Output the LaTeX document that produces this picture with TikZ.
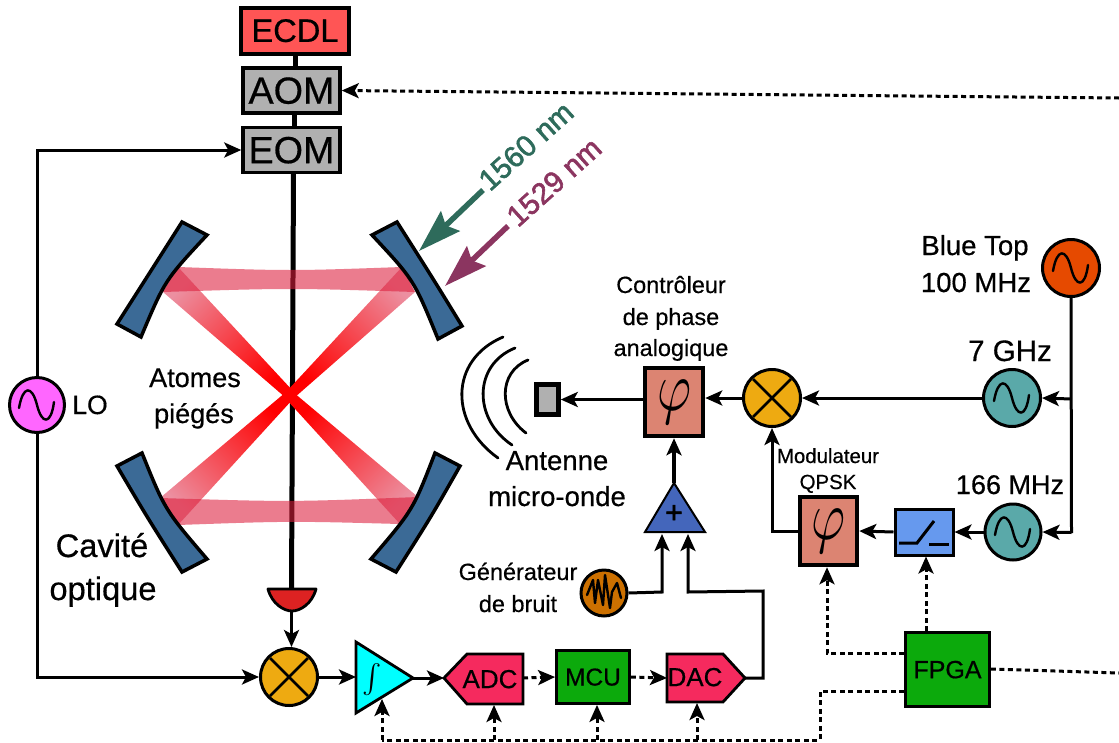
\documentclass[tikz,border=0pt]{standalone}
\usepackage{fontspec}
\setmainfont{Liberation Sans}[FakeBold=0.5]
\newfontface\boldish{Liberation Sans}[FakeBold=2]
\usetikzlibrary{arrows.meta,fadings,calc}
\newcommand{\fs}[1]{\edef\curfs{\the\dimexpr #1pt*102/100\relax}\fontsize{\curfs}{\curfs}\selectfont}
\definecolor{bluemirror}{HTML}{3B6A96}
\definecolor{boxgray}{HTML}{B0B0B0}
\definecolor{ecdlred}{HTML}{FF5555}
\definecolor{mixcol}{HTML}{EEAA11}
\definecolor{osccol}{HTML}{5AA9A9}
\definecolor{topcol}{HTML}{E64A00}
\definecolor{locol}{HTML}{FF66FF}
\definecolor{phasecol}{HTML}{DC8472}
\definecolor{swcol}{HTML}{6699EE}
\definecolor{pluscol}{HTML}{4466BB}
\definecolor{noisecol}{HTML}{CC7000}
\definecolor{convcol}{HTML}{F52A5E}
\definecolor{greenbox}{HTML}{0CAA0C}
\definecolor{greenarrow}{HTML}{2E6B5B}
\definecolor{purplearrow}{HTML}{8B3560}
\definecolor{beamred}{HTML}{DC1E3C}
\definecolor{beampale}{HTML}{EC8FA0}
\definecolor{beammid}{HTML}{F04A5A}
\definecolor{detred}{HTML}{DD2222}
\definecolor{intcol}{HTML}{00FFFF}
\tikzfading[name=hbeam,left color=transparent!42,middle color=transparent!28,right color=transparent!42]
\tikzset{
  tip/.style={-{Stealth[length=17pt,width=15pt,inset=4pt]}},
  sig/.style={line width=3pt,tip},
  wire/.style={line width=3pt},
  dsh/.style={line width=3pt,dash pattern=on 5pt off 3.5pt},
  dtip/.style={dsh,tip},
  mirror/.style={fill=bluemirror,draw=black,line width=3.5pt,line join=miter},
  lab/.style={inner sep=0pt,anchor=base,align=center},
  modbox/.style={draw=black,fill=boxgray,line width=3.5pt,minimum width=97pt,minimum height=45pt,inner sep=0pt,font=\fs{37},text depth=0pt},
  ecdlbox/.style={draw=black,fill=ecdlred,line width=4pt,minimum width=108pt,minimum height=46pt,inner sep=0pt,font=\fs{32},text depth=0pt},
  greenb/.style={draw=black,fill=greenbox,line width=2.8pt,inner sep=0pt,text depth=0pt},
  phasebox/.style={draw=black,fill=phasecol,line width=4.5pt,inner sep=0pt},
  osc/.style={circle,draw=black,line width=3pt,inner sep=0pt,minimum size=#1},
  conv/.style={fill=convcol,draw=black,line width=2.8pt,line join=miter},
  wave/.style={line width=2.8pt,line cap=round},
  curve/.style={line width=2.4pt,line cap=round,line join=round},
  bigtip/.style={-{Stealth[length=43pt,width=27pt,inset=6pt]},line width=5.5pt},
}
\newcommand{\sinewave}[1]{\draw[curve] ($(#1)+(-18,3)$) .. controls ($(#1)+(-14,-20)$) and ($(#1)+(-5,-20)$) .. ($(#1)+(0,0)$) .. controls ($(#1)+(5,20)$) and ($(#1)+(14,20)$) .. ($(#1)+(17,-3)$);}
\newcommand{\crossmix}[1]{\draw[line width=2.8pt] ($(#1)+(-19,-19)$) -- ($(#1)+(19,19)$) ($(#1)+(-19,19)$) -- ($(#1)+(19,-19)$);}
\newcommand{\phiglyph}{\scalebox{5.2}[7]{$\varphi$}}
\begin{document}
\begin{tikzpicture}[x=1pt,y=-1pt]
\useasboundingbox (0,0) rectangle (1119,742);
% --- optical chain
\node[ecdlbox] (ecdl) at (295,30.5) {ECDL};
\node[modbox] (aom) at (291.5,90.5) {AOM};
\node[modbox] (eom) at (291.5,150) {EOM};
\draw[line width=5pt] (295,54) -- (295,68);
\draw[line width=5pt] (294.5,113) -- (294.5,127);
\coordinate (detin) at (291.5,590);
\draw[line width=5pt] (293.5,173) -- (detin);
% --- beams
\coordinate (ctr) at (290,395);
\shade[top color=beampale,middle color=beammid,bottom color=red,shading angle=45] (178,267) -- (293,391) -- (286,398) -- (163,292) -- cycle;
\shade[top color=beampale,middle color=beammid,bottom color=red,shading angle=-45] (402,267) -- (415,292) -- (294,398) -- (287,391) -- cycle;
\shade[top color=red,middle color=beammid,bottom color=beampale,shading angle=-45] (160,498) -- (286,392) -- (293,399) -- (178,525) -- cycle;
\shade[top color=red,middle color=beammid,bottom color=beampale,shading angle=45] (418,497) -- (400,524) -- (286,399) -- (293,392) -- cycle;
\fill[red] (ctr) circle (6);
\fill[beamred,path fading=hbeam] (178,267) .. controls (290,271) .. (402,267) -- (415,292) .. controls (290,288) .. (163,292) -- cycle;
\fill[beamred,path fading=hbeam] (160,498) .. controls (290,502) .. (418,497) -- (400,524) .. controls (290,521) .. (178,525) -- cycle;
% --- mirrors
\draw[mirror] (182,222) -- (207,235) .. controls (165,280) .. (141,337) -- (117,324) .. controls (147,277) .. cycle;
\draw[mirror] (397,222) -- (372,235) .. controls (414,280) .. (438,339) -- (462,326) .. controls (432,277) .. cycle;
\draw[mirror] (117,466) -- (142,453) .. controls (165,510) .. (207,559) -- (182,572) .. controls (147,517) .. cycle;
\draw[mirror] (460,466) -- (435,453) .. controls (413,510) .. (371,559) -- (396,572) .. controls (431,517) .. cycle;
% --- wavelength arrows
\coordinate (gs) at (483,190); \coordinate (ge) at (419,251);
\coordinate (ps) at (508,226); \coordinate (pe) at (445,286);
\draw[bigtip,greenarrow] (gs) -- (ge);
\draw[bigtip,purplearrow] (ps) -- (pe);
\node[inner sep=0pt,rotate=42,text=greenarrow,font=\boldish\fs{29}] (l1560) at (526,146) {1560 nm};
\node[inner sep=0pt,rotate=42,text=purplearrow,font=\boldish\fs{29}] (l1529) at (554,182) {1529 nm};
% --- detector
\draw[fill=detred,line width=2.8pt,line join=round] (268,589) -- (316,589) .. controls (312,604) and (300,611) .. (292,611) .. controls (284,611) and (272,604) .. cycle;
\coordinate (detout) at (291.5,612);
% --- mixers and oscillators
\node[osc=57pt,fill=mixcol] (mixa) at (289,677) {};
\crossmix{mixa}
\node[osc=57pt,fill=mixcol] (mixb) at (772,398) {};
\crossmix{mixb}
\node[osc=55pt,fill=locol] (lo) at (37,405) {};
\sinewave{lo}
\node[osc=57pt,fill=topcol] (top) at (1071,268) {};
\sinewave{top}
\node[osc=57pt,fill=osccol] (o7) at (1012,398) {};
\sinewave{o7}
\node[osc=56pt,fill=osccol] (o166) at (1013,532) {};
\sinewave{o166}
\node[osc=46pt,fill=noisecol] (noise) at (604,593) {};
\draw[curve] (587,595) -- (593,580) -- (595,603) -- (598,580) -- (603,605) -- (605,575) -- (610,608) -- (612,592) -- (617,583) -- (621,598);
% --- phase shifters
\node[phasebox,minimum width=58pt,minimum height=68pt] (phia) at (674,402) {\phiglyph};
\node[phasebox,minimum width=57pt,minimum height=68pt] (phib) at (828.5,531) {\phiglyph};
% --- switch
\node[draw=black,fill=swcol,line width=3pt,minimum width=58pt,minimum height=46pt,inner sep=0pt] (sw) at (924,532) {};
\draw[line width=3pt] (899,543) -- (917,543) -- (934,521);
\draw[line width=3pt] (929,544) -- (949,544);
% --- antenna
\node[draw=black,fill=boxgray,line width=4.5pt,minimum width=22pt,minimum height=30pt,inner sep=0pt] (ant) at (547.5,399.5) {};
\draw[wave] (503,337) .. controls (449,360) and (449,423) .. (498,458);
\draw[wave] (515,348) .. controls (473,365) and (473,419) .. (512,445);
\draw[wave] (528,360) .. controls (498,372) and (498,412) .. (526,433);
% --- adder
\coordinate (addt) at (674,483); \coordinate (addl) at (645,532); \coordinate (addr) at (705,532);
\draw[fill=pluscol,line width=2pt,line join=miter] (addt) -- (addr) -- (addl) -- cycle;
\node[inner sep=0pt,font=\boldish\fs{30}] (plus) at (674,514) {+};
% --- integrator
\coordinate (inta) at (356,642); \coordinate (intb) at (356,713); \coordinate (intt) at (413,678);
\draw[fill=intcol,line width=2.8pt,line join=miter] (inta) -- (intt) -- (intb) -- cycle;
\node[inner sep=0pt] (intg) at (372,680) {\scalebox{2.9}{$\int$}};
% --- converters
\coordinate (adct) at (444,678);
\draw[conv] (adct) -- (467,654) -- (523,654) -- (523,704) -- (467,704) -- cycle;
\node[inner sep=0pt,font=\fs{25.5},text depth=0pt] (adc) at (490,679) {ADC};
\node[greenb,minimum width=73pt,minimum height=53pt,font=\fs{24}] (mcu) at (593,677) {MCU};
\coordinate (dact) at (745,678);
\draw[conv] (667,654) -- (723,654) -- (dact) -- (723,702) -- (667,702) -- cycle;
\node[inner sep=0pt,font=\fs{25.5},text depth=0pt] (dac) at (695,677) {DAC};
\node[greenb,minimum width=84pt,minimum height=74pt,font=\fs{24.5}] (fpga) at (947.5,669.5) {FPGA};
% --- free ends
\coordinate (eastA) at (1119,98);
\coordinate (eastB) at (1119,673);
% --- solid connectors
\draw[sig] (lo.north) |- (eom.west);
\draw[sig] (lo.south) |- (mixa.west);
\draw[sig] (detout) -- (mixa.north -| detout);
\draw[sig] (mixa.east) -- (inta |- mixa.east);
\draw[sig] (intt) -- (adct);
\draw[wire] (top.south) -- (1071.5,533);
\draw[sig] (1071.5,399) -- (o7.east);
\draw[sig] (1071.5,532.5) -- (o166.east);
\draw[sig] (o7.west) -- (mixb.east);
\draw[sig] (mixb.west) -- (phia.east |- mixb.west);
\draw[sig] (phia.west |- ant.east) -- (ant.east);
\draw[sig,line width=3.5pt] (addt) -- (phia.south);
\draw[sig] (noise.east) -- (662,592) -- (662,534);
\draw[sig] (dact) -- (763,678) -- (763,591) -- (688,592) -- (688,534);
\draw[sig] (o166.west) -- (sw.east);
\draw[sig] (sw.west) -- (phib.east);
\draw[sig] (phib.west) -| (mixb.south);
% --- dashed connectors
\draw[dtip] (eastA) -- (aom.east);
\draw[dtip] (523,678) -- (mcu.west);
\draw[dtip] (mcu.east) -- (667,678);
\draw[dsh] (fpga.west |- 0,691) -- (820,691) -- (820,740) -- (382,740);
\draw[dtip] (382,740) -- (382,699);
\draw[dtip] (494,740) -- (494,705);
\draw[dtip] (597,740) -- (mcu.south -| 597,0);
\draw[dtip] (697,740) -- (697,703);
\draw[dtip] (fpga.north -| 926,0) -- (sw.south -| 926,0);
\draw[dtip] (fpga.west |- 0,653) -- (827,653) -- (phib.south -| 827,0);
\draw[dsh] (fpga.east |- 0,669) -- (eastB);
% --- labels
\node[lab,font=\fs{26}] (tlo) at (90,414) {LO};
\node[lab,font=\fs{26.5}] (t1) at (195,387) {Atomes};
\node[lab,font=\fs{26.5}] (t2) at (194,423) {piégés};
\node[lab,font=\fs{32}] (t3) at (102,557) {Cavité};
\node[lab,font=\fs{32}] (t4) at (103,600) {optique};
\node[lab,font=\fs{27}] (t5) at (557,470) {Antenne};
\node[lab,font=\fs{27}] (t6) at (557,506) {micro-onde};
\node[lab,font=\fs{23}] (t7) at (518,580) {Générateur};
\node[lab,font=\fs{23}] (t8) at (518,612) {de bruit};
\node[lab,font=\fs{23}] (t9) at (671,293) {Contrôleur};
\node[lab,font=\fs{23}] (t10) at (671,325) {de phase};
\node[lab,font=\fs{23}] (t11) at (671,356) {analogique};
\node[lab,font=\fs{20}] (t12) at (828,463) {Modulateur};
\node[lab,font=\fs{20}] (t13) at (828,489) {QPSK};
\node[lab,font=\fs{26.5}] (t14) at (1010,494) {166 MHz};
\node[lab,font=\fs{27}] (t15) at (975,255) {Blue Top};
\node[lab,font=\fs{27}] (t16) at (976,292) {100 MHz};
\node[lab,font=\fs{29}] (t17) at (1010,361) {7 GHz};
\end{tikzpicture}
\end{document}
